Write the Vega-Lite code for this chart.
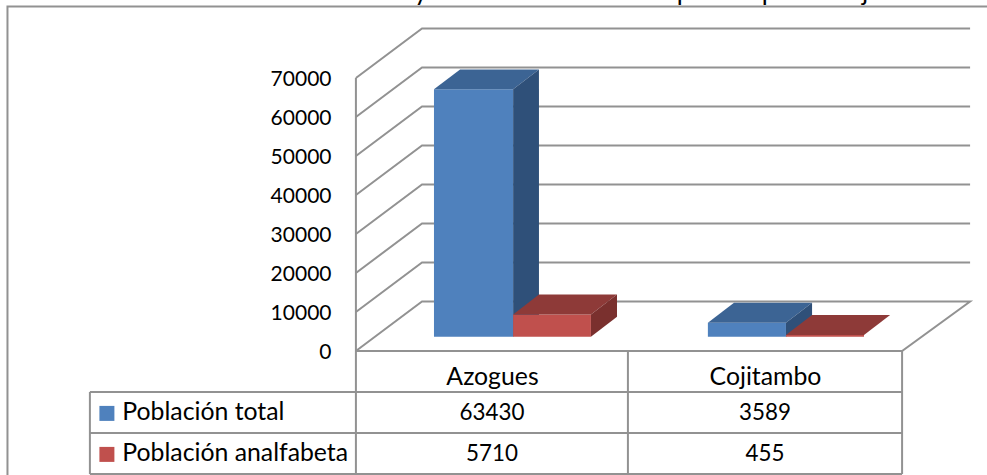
{
"$schema":"https://vega.github.io/schema/vega-lite/v6.json",
"autosize":{"type":"none"},
"width":987,"height":475,"padding":0,
"background":"white",
"config":{"view":{"stroke":null},"font":"Lato"},
"datasets":{
"lines":[
{"id":"g1","p":1,"x":-0.004,"v":10000},{"id":"g1","p":2,"x":0.239,"v":22700},{"id":"g1","p":3,"x":2.254,"v":22700},
{"id":"g2","p":1,"x":-0.004,"v":20000},{"id":"g2","p":2,"x":0.239,"v":32700},{"id":"g2","p":3,"x":2.254,"v":32700},
{"id":"g3","p":1,"x":-0.004,"v":30000},{"id":"g3","p":2,"x":0.239,"v":42700},{"id":"g3","p":3,"x":2.254,"v":42700},
{"id":"g4","p":1,"x":-0.004,"v":40000},{"id":"g4","p":2,"x":0.239,"v":52700},{"id":"g4","p":3,"x":2.254,"v":52700},
{"id":"g5","p":1,"x":-0.004,"v":50000},{"id":"g5","p":2,"x":0.239,"v":62700},{"id":"g5","p":3,"x":2.254,"v":62700},
{"id":"g6","p":1,"x":-0.004,"v":60000},{"id":"g6","p":2,"x":0.239,"v":72700},{"id":"g6","p":3,"x":2.254,"v":72700},
{"id":"g7","p":1,"x":-0.004,"v":70000},{"id":"g7","p":2,"x":0.239,"v":82700},{"id":"g7","p":3,"x":2.254,"v":82700},
{"id":"floor","p":1,"x":-0.004,"v":0},{"id":"floor","p":2,"x":0.239,"v":12700},{"id":"floor","p":3,"x":2.254,"v":12700},{"id":"floor","p":4,"x":2.004,"v":0},{"id":"floor","p":5,"x":-0.004,"v":0},
{"id":"axis","p":1,"x":-0.004,"v":70000},{"id":"axis","p":2,"x":-0.004,"v":-31538},
{"id":"t1","p":1,"x":-0.982,"v":-10513},{"id":"t1","p":2,"x":2.004,"v":-10513},
{"id":"t2","p":1,"x":-0.982,"v":-21026},{"id":"t2","p":2,"x":2.004,"v":-21026},
{"id":"t3","p":1,"x":-0.982,"v":-31538},{"id":"t3","p":2,"x":2.004,"v":-31538},
{"id":"t4","p":1,"x":-0.982,"v":-10513},{"id":"t4","p":2,"x":-0.982,"v":-31538},
{"id":"t5","p":1,"x":0.996,"v":0},{"id":"t5","p":2,"x":0.996,"v":-31538},
{"id":"t6","p":1,"x":2.004,"v":0},{"id":"t6","p":2,"x":2.004,"v":-31538},
{"id":"f1","p":1,"x":-1.285,"v":-31795},{"id":"f1","p":2,"x":-1.285,"v":88333},{"id":"f1","p":3,"x":2.3162,"v":88333}
],
"faces":[
{"poly":"a1f","surface":"Población total","x":0.283,"lo":3667,"hi":67097},{"poly":"a1f","surface":"Población total","x":0.574,"lo":3667,"hi":67097},
{"poly":"a1t","surface":"total arriba","x":0.283,"lo":67097,"hi":67097},{"poly":"a1t","surface":"total arriba","x":0.379,"lo":67097,"hi":72197},{"poly":"a1t","surface":"total arriba","x":0.574,"lo":67097,"hi":72197},{"poly":"a1t","surface":"total arriba","x":0.669,"lo":72197,"hi":72197},
{"poly":"a1s","surface":"total lado","x":0.574,"lo":3667,"hi":67097},{"poly":"a1s","surface":"total lado","x":0.669,"lo":8767,"hi":72197},
{"poly":"a2f","surface":"Población analfabeta","x":0.574,"lo":3667,"hi":9377},{"poly":"a2f","surface":"Población analfabeta","x":0.860,"lo":3667,"hi":9377},
{"poly":"a2t","surface":"analfabeta arriba","x":0.574,"lo":9377,"hi":9377},{"poly":"a2t","surface":"analfabeta arriba","x":0.669,"lo":9377,"hi":14477},{"poly":"a2t","surface":"analfabeta arriba","x":0.860,"lo":9377,"hi":14477},{"poly":"a2t","surface":"analfabeta arriba","x":0.956,"lo":14477,"hi":14477},
{"poly":"a2s","surface":"analfabeta lado","x":0.860,"lo":3667,"hi":9377},{"poly":"a2s","surface":"analfabeta lado","x":0.956,"lo":8767,"hi":14477},
{"poly":"c1f","surface":"Población total","x":1.290,"lo":3667,"hi":7256},{"poly":"c1f","surface":"Población total","x":1.577,"lo":3667,"hi":7256},
{"poly":"c1t","surface":"total arriba","x":1.290,"lo":7256,"hi":7256},{"poly":"c1t","surface":"total arriba","x":1.386,"lo":7256,"hi":12356},{"poly":"c1t","surface":"total arriba","x":1.577,"lo":7256,"hi":12356},{"poly":"c1t","surface":"total arriba","x":1.673,"lo":12356,"hi":12356},
{"poly":"c1s","surface":"total lado","x":1.577,"lo":3667,"hi":7256},{"poly":"c1s","surface":"total lado","x":1.673,"lo":8767,"hi":12356},
{"poly":"c2f","surface":"Población analfabeta","x":1.577,"lo":3667,"hi":4122},{"poly":"c2f","surface":"Población analfabeta","x":1.864,"lo":3667,"hi":4122},
{"poly":"c2t","surface":"analfabeta arriba","x":1.577,"lo":4122,"hi":4122},{"poly":"c2t","surface":"analfabeta arriba","x":1.673,"lo":4122,"hi":9222},{"poly":"c2t","surface":"analfabeta arriba","x":1.864,"lo":4122,"hi":9222},{"poly":"c2t","surface":"analfabeta arriba","x":1.960,"lo":9222,"hi":9222}
],
"glyphs":[
{"g":"y","x":0.235,"v":90000},{"g":"p","x":1.202,"v":90000},{"g":"p","x":1.515,"v":90000},{"g":"j","x":1.868,"v":90000}
],
"table":[
{"place":"Azogues","serie":"Población total","n":63430},
{"place":"Cojitambo","serie":"Población total","n":3589},
{"place":"Azogues","serie":"Población analfabeta","n":5710},
{"place":"Cojitambo","serie":"Población analfabeta","n":455}
]
},
"resolve":{"scale":{"x":"independent","y":"independent"}},
"layer":[
{"data":{"name":"lines"},
 "mark":{"type":"line","stroke":"#929292","strokeWidth":2,"interpolate":"linear"},
 "encoding":{
  "x":{"field":"x","type":"quantitative","scale":{"domain":[-1.3125,2.31618],"nice":false,"zero":false},"axis":null},
  "y":{"field":"v","type":"quantitative","scale":{"domain":[-31795,90000],"nice":false,"zero":false},
    "axis":{"orient":"left","offset":-356,"values":[0,10000,20000,30000,40000,50000,60000,70000],"format":"d","grid":false,"domain":false,"ticks":false,"labelPadding":25,"labelOffset":2,"labelFont":"Lato","labelFontSize":21,"labelColor":"#000000","title":null,"labelOverlap":false,"labelFlush":false}},
  "detail":{"field":"id"},
  "order":{"field":"p"}
 }},
{"data":{"name":"faces"},
 "mark":{"type":"area","interpolate":"linear","orient":"vertical"},
 "encoding":{
  "x":{"field":"x","type":"quantitative","scale":{"domain":[-1.3125,2.31618],"nice":false,"zero":false},"axis":null},
  "y":{"field":"lo","type":"quantitative","scale":{"domain":[-31795,90000],"nice":false,"zero":false},"axis":null},
  "y2":{"field":"hi"},
  "detail":{"field":"poly"},
  "color":{"field":"surface","type":"nominal",
    "scale":{"domain":["Población total","Población analfabeta","total arriba","total lado","analfabeta arriba","analfabeta lado"],"range":["#4F81BD","#C0504D","#3C6494","#2F5079","#8E3A38","#7A302E"]},
    "legend":{"orient":"none","legendX":94.5,"legendY":401,"values":["Población total","Población analfabeta"],"title":null,"symbolType":"square","symbolSize":225,"labelFont":"Lato","labelFontSize":24.8,"labelLimit":400,"labelColor":"#000000","labelOffset":3,"rowPadding":15,"padding":0,"symbolStrokeWidth":0}}
 }},
{"data":{"name":"glyphs"},
 "mark":{"type":"text","clip":true,"font":"Lato","fontSize":26,"color":"#000000","baseline":"alphabetic","align":"center"},
 "encoding":{
  "x":{"field":"x","type":"quantitative","scale":{"domain":[-1.3125,2.31618],"nice":false,"zero":false},"axis":null},
  "y":{"field":"v","type":"quantitative","scale":{"domain":[-31795,90000],"nice":false,"zero":false},"axis":null},
  "text":{"field":"g"}
 }},
{"data":{"name":"table"},
 "mark":{"type":"text","font":"Lato","fontSize":22.4,"color":"#000000","baseline":"middle","align":"center"},
 "encoding":{
  "x":{"field":"place","type":"nominal","scale":{"type":"point","domain":["Azogues","Cojitambo"],"range":[492,765],"padding":0},
    "axis":{"orient":"bottom","offset":-98,"domain":false,"ticks":false,"labelPadding":0,"labelAngle":0,"labelBaseline":"middle","labelFont":"Lato","labelFontSize":24.8,"labelColor":"#000000","title":null}},
  "y":{"field":"serie","type":"nominal","scale":{"type":"point","domain":["Población total","Población analfabeta"],"range":[412.5,453.5],"padding":0},"axis":null},
  "text":{"field":"n","type":"quantitative","format":"d"}
 }}
]
}
